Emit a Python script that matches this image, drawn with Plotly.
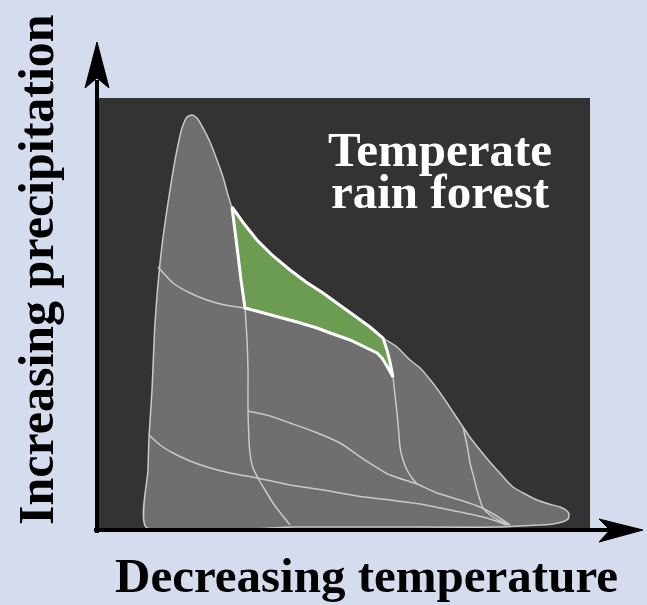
import plotly.graph_objects as go

# ---------------- data (temperature index 0-100 left->right = decreasing temperature,
# precipitation index 0-100 bottom->top = increasing precipitation) ----------------
outer_temp = [9.94, 10.34, 10.55, 11.16, 11.76, 12.78, 13.59, 14.81, 16.02, 17.24, 18.26, 19.27,
              20.28, 21.50, 22.92, 24.34, 25.56, 26.57, 27.38,
              30.02, 32.45, 35.50, 39.15, 42.39, 45.84, 49.29, 52.74, 55.38, 58.01,
              60.85, 63.49, 65.52, 67.95, 70.18, 72.21, 74.24, 76.06, 77.69, 79.51, 81.14,
              82.76, 84.38, 86.82, 89.25, 91.68, 93.91, 95.13, 95.74, 95.54, 94.32, 92.49,
              89.86, 85.80, 81.74, 60.0, 40.0, 9.94]
outer_precip = [0.69, 13.89, 21.53, 32.41, 47.92, 61.81, 69.44, 78.70, 86.81, 93.06, 95.60, 96.06,
                95.37, 93.06, 89.81, 85.65, 81.71, 77.55, 74.77,
                70.60, 67.13, 63.66, 60.19, 57.41, 54.86, 52.08, 49.31, 46.99, 44.44,
                42.36, 39.35, 37.50, 34.26, 30.79, 27.31, 23.84, 20.83, 18.52, 15.97, 13.89,
                11.81, 9.95, 8.33, 6.94, 6.02, 5.32, 4.63, 3.70, 2.55, 1.85, 1.39,
                1.16, 0.93, 0.69, 0.69, 0.69, 0.69]

rainforest_temp = [27.38, 30.02, 32.45, 35.50, 39.15, 42.39, 45.84, 49.29, 52.74, 55.38, 58.01,
                   58.82, 59.43, 60.04, 59.03, 57.81, 56.80, 54.36, 51.32, 47.87, 44.62, 40.57,
                   36.51, 33.06, 30.02, 29.61, 29.21, 28.60, 27.99, 27.38]
rainforest_precip = [74.77, 70.60, 67.13, 63.66, 60.19, 57.41, 54.86, 52.08, 49.31, 46.99, 44.44,
                     41.67, 38.89, 35.42, 37.50, 39.81, 40.97, 42.36, 43.98, 45.37, 46.76, 48.15,
                     49.31, 50.46, 51.39, 54.40, 57.87, 63.66, 69.44, 74.77]

# internal biome boundaries
b1_temp = [12.37, 15.42, 18.86, 22.31, 25.96, 30.02]
b1_precip = [60.88, 57.18, 54.86, 53.24, 52.08, 51.39]

b2_temp = [30.02, 30.43, 30.63, 30.63, 31.03, 31.64, 32.66, 34.08, 35.70, 37.53, 39.15]
b2_precip = [51.39, 43.98, 37.04, 27.78, 17.82, 14.35, 12.04, 9.26, 6.25, 3.47, 1.16]

b3_temp = [60.04, 60.45, 60.85, 61.26, 61.46, 62.07, 62.88, 63.89, 64.91]
b3_precip = [35.42, 31.25, 27.08, 21.99, 19.21, 16.20, 13.89, 12.04, 10.65]

b4_temp = [30.63, 35.09, 39.15, 44.22, 49.29, 54.36, 59.43, 64.91, 68.97, 73.63, 77.69, 80.73, 83.77]
b4_precip = [27.55, 26.39, 24.77, 22.69, 20.14, 16.20, 12.73, 10.65, 8.56, 6.94, 5.32, 3.47, 1.16]

b5_temp = [10.55, 12.78, 15.42, 18.86, 22.31, 26.98, 32.45, 39.15, 45.84, 52.74, 59.43, 65.52,
           71.60, 75.66, 79.72, 83.16]
b5_precip = [21.99, 19.68, 17.82, 15.97, 14.58, 13.19, 12.04, 10.42, 9.26, 7.87, 6.94, 6.02,
             4.63, 3.70, 2.55, 1.16]

b6_temp = [74.24, 75.05, 75.66, 76.47, 77.08, 77.69, 78.30, 79.72, 81.74, 83.77]
b6_precip = [23.84, 19.68, 15.51, 12.04, 9.26, 6.94, 5.09, 3.47, 2.08, 1.16]

highlight_label = ["Temperate", "rain forest"]
x_title = "Decreasing temperature"
y_title = "Increasing precipitation"

# ---------------- styling ----------------
BG = "#d5dcee"
BOX = "#333333"
SHAPE = "#6f6f6f"
EDGE = "#c9c9c9"
GREEN = "#6b9c52"

W, H = 647, 605
L, R, T, B = 97, 57, 98, 75
PW, PH = W - L - R, H - T - B


def px(x):
    return (x - L) / PW


def py(y):
    return (H - B - y) / PH


fig = go.Figure()

fig.add_trace(go.Scatter(x=outer_temp, y=outer_precip, mode="lines", fill="toself",
                         fillcolor=SHAPE, line=dict(color=EDGE, width=1.5, shape="spline", smoothing=0.6),
                         hoverinfo="skip", showlegend=False))

for tx, ty in [(b1_temp, b1_precip), (b2_temp, b2_precip), (b3_temp, b3_precip),
               (b4_temp, b4_precip), (b5_temp, b5_precip), (b6_temp, b6_precip)]:
    fig.add_trace(go.Scatter(x=tx, y=ty, mode="lines",
                             line=dict(color=EDGE, width=1.5, shape="spline", smoothing=0.6),
                             hoverinfo="skip", showlegend=False))

fig.add_trace(go.Scatter(x=rainforest_temp, y=rainforest_precip, mode="lines", fill="toself",
                         fillcolor=GREEN, line=dict(color="white", width=3),
                         hoverinfo="skip", showlegend=False))

shapes = [
    # y axis line + arrowhead
    dict(type="line", xref="paper", yref="paper", x0=px(97), x1=px(97), y0=py(533), y1=py(80),
         line=dict(color="black", width=4)),
    dict(type="path", xref="paper", yref="paper",
         path=f"M {px(97)},{py(42)} L {px(85)},{py(88)} L {px(97)},{py(78)} L {px(109)},{py(88)} Z",
         fillcolor="black", line=dict(color="black", width=1)),
    # x axis line + arrowhead
    dict(type="line", xref="paper", yref="paper", x0=px(94), x1=px(612), y0=py(530), y1=py(530),
         line=dict(color="black", width=4)),
    dict(type="path", xref="paper", yref="paper",
         path=f"M {px(643)},{py(530)} L {px(599)},{py(519)} L {px(610)},{py(530)} L {px(599)},{py(542)} Z",
         fillcolor="black", line=dict(color="black", width=1)),
]

annotations = [
    dict(text=f"<b>{highlight_label[0]}</b>", xref="paper", yref="paper", x=px(440), y=py(149),
         xanchor="center", yanchor="middle", showarrow=False,
         font=dict(family="Liberation Serif", size=49, color="white")),
    dict(text=f"<b>{highlight_label[1]}</b>", xref="paper", yref="paper", x=px(440), y=py(191),
         xanchor="center", yanchor="middle", showarrow=False,
         font=dict(family="Liberation Serif", size=49, color="white")),
    dict(text=f"<b>{x_title}</b>", xref="paper", yref="paper", x=px(366), y=py(575),
         xanchor="center", yanchor="middle", showarrow=False,
         font=dict(family="Liberation Serif", size=49, color="black")),
    dict(text=f"<b>{y_title}</b>", xref="paper", yref="paper", x=px(36), y=py(270),
         xanchor="center", yanchor="middle", showarrow=False, textangle=-90,
         font=dict(family="Liberation Serif", size=50, color="black")),
]

fig.update_layout(
    width=W, height=H, margin=dict(l=L, r=R, t=T, b=B, pad=0),
    paper_bgcolor=BG, plot_bgcolor=BOX,
    xaxis=dict(range=[0, 100], showgrid=False, zeroline=False, showticklabels=False,
               ticks="", showline=False, fixedrange=True),
    yaxis=dict(range=[0, 100], showgrid=False, zeroline=False, showticklabels=False,
               ticks="", showline=False, fixedrange=True),
    shapes=shapes, annotations=annotations, showlegend=False,
)

fig.write_html("out.html", config={"displayModeBar": False},
               post_script="document.body.style.margin='0';document.body.style.padding='0';"
                           "document.body.style.background='" + BG + "';")
